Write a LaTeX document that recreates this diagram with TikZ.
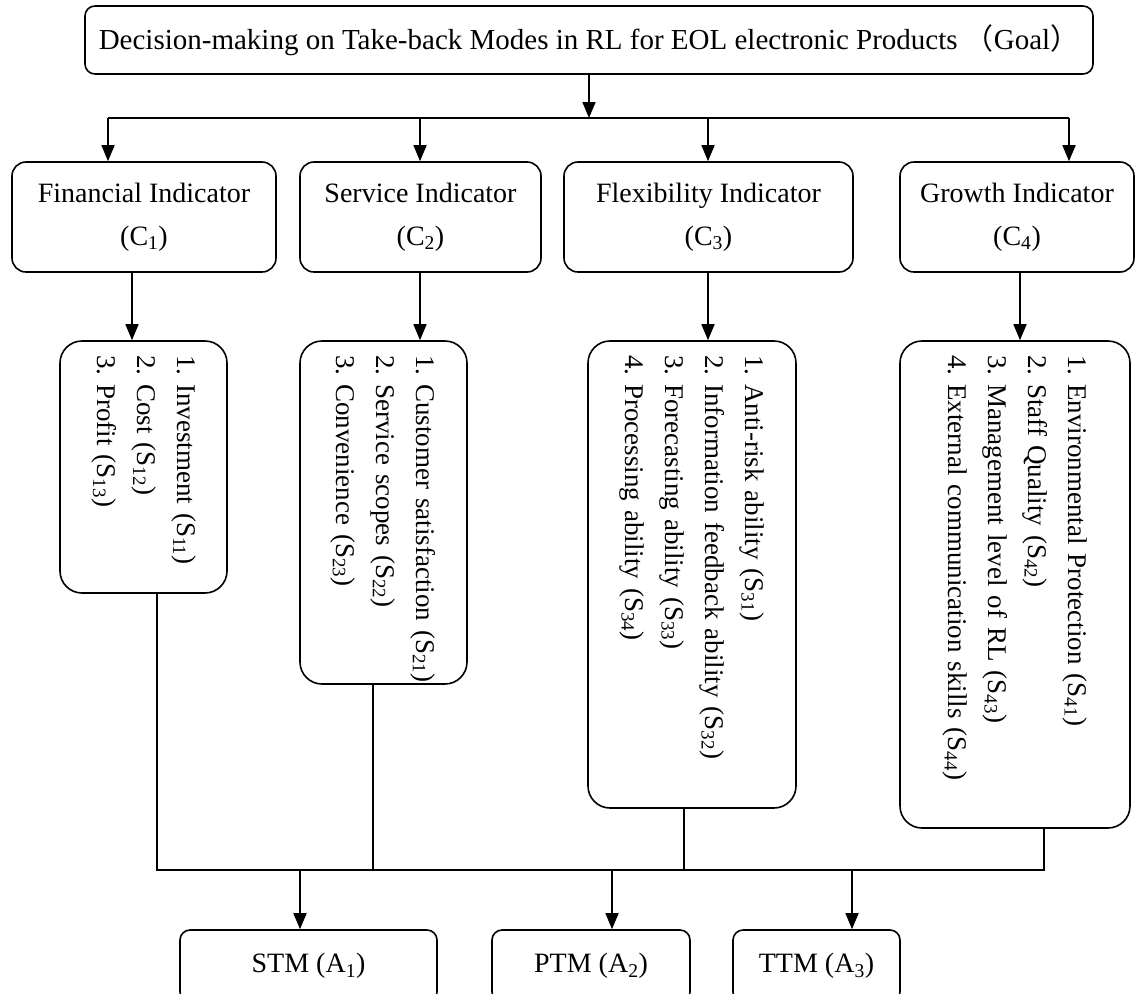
\documentclass[tikz,border=0pt]{standalone}
\usepackage{fontspec}
\setmainfont{Liberation Serif}
\newfontfamily\cjk{Noto Sans CJK SC}
\usetikzlibrary{arrows.meta}
\begin{document}
\frenchspacing
\begin{tikzpicture}[x=1pt,y=1pt,
  box/.style={draw, line width=1.6pt, rounded corners=14pt, align=center,
    inner sep=0pt, font=\fontsize{28}{43}\selectfont},
  sbox/.style={draw, line width=1.6pt, rounded corners=22pt, rotate=-90,
    align=left, inner xsep=14pt, inner ysep=0pt, font=\fontsize{27}{40}\selectfont},
  abox/.style={draw, line width=1.6pt, rounded corners=10pt, inner sep=0pt,
    font=\fontsize{28}{34}\selectfont, minimum height=72},
  arr/.style={line width=1.6pt, -{Triangle[length=16pt,width=13pt]}},
  wire/.style={line width=1.6pt}]
\clip (0,0) rectangle (1137,-993);

% goal
\node[box, rounded corners=10pt, minimum width=1008, minimum height=68,
  font=\fontsize{29}{34}\selectfont] (goal) at (589,-40)
  {Decision-making on Take-back Modes in RL for EOL electronic Products\ {\cjk （}Goal{\cjk ）}};

% criteria
\node[box, minimum width=264, minimum height=110] (C1) at (144,-217)
  {Financial Indicator\\(C\textsubscript{1})};
\node[box, minimum width=241, minimum height=110] (C2) at (420.5,-217)
  {Service Indicator\\(C\textsubscript{2})};
\node[box, minimum width=289, minimum height=110] (C3) at (708.5,-217)
  {Flexibility Indicator\\(C\textsubscript{3})};
\node[box, minimum width=234, minimum height=110] (C4) at (1017,-217)
  {Growth Indicator\\(C\textsubscript{4})};

% sub-criteria, written top to bottom
\node[sbox, minimum height=167, text width=224] (S1) at (143.5,-467)
  {\mbox{1. Investment (S\textsubscript{11})}\\\mbox{2. Cost (S\textsubscript{12})}\\\mbox{3. Profit (S\textsubscript{13})}};
\node[sbox, minimum height=167, text width=315] (S2) at (383.5,-512.5)
  {\mbox{1. Customer satisfaction (S\textsubscript{21})}\\\mbox{2. Service scopes (S\textsubscript{22})}\\\mbox{3. Convenience (S\textsubscript{23})}};
\node[sbox, minimum height=208, text width=439] (S3) at (692,-574.5)
  {\mbox{1. Anti-risk ability (S\textsubscript{31})}\\\mbox{2. Information feedback ability (S\textsubscript{32})}\\\mbox{3. Forecasting ability (S\textsubscript{33})}\\\mbox{4. Processing ability (S\textsubscript{34})}};
\node[sbox, minimum height=230, text width=459] (S4) at (1015,-584.5)
  {\mbox{1. Environmental Protection (S\textsubscript{41})}\\\mbox{2. Staff Quality (S\textsubscript{42})}\\\mbox{3. Management level of RL (S\textsubscript{43})}\\\mbox{4. External communication skills (S\textsubscript{44})}};

% alternatives (their lower edge runs past the page)
\node[abox, minimum width=257] (A1) at (308.5,-966) {STM (A\textsubscript{1})};
\node[abox, minimum width=198] (A2) at (591,-966) {PTM (A\textsubscript{2})};
\node[abox, minimum width=167] (A3) at (816.5,-966) {TTM (A\textsubscript{3})};

% goal to criteria
\coordinate (tl) at (108,-118);
\coordinate (tr) at (1069,-118);
\draw[arr] (goal.south) -- (goal.south |- tl);
\draw[wire] (tl) -- (tr);
\draw[arr] (tl) -- (108,0 |- C1.north);
\draw[arr] (420,0 |- tl) -- (420,0 |- C2.north);
\draw[arr] (708,0 |- tl) -- (708,0 |- C3.north);
\draw[arr] (tr) -- (1069,0 |- C4.north);

% criteria to sub-criteria
\draw[arr] (132,0 |- C1.south) -- (132,0 |- S1.west);
\draw[arr] (420,0 |- C2.south) -- (420,0 |- S2.west);
\draw[arr] (708,0 |- C3.south) -- (708,0 |- S3.west);
\draw[arr] (1020,0 |- C4.south) -- (1020,0 |- S4.west);

% sub-criteria to alternatives
\coordinate (bl) at (157,-870);
\coordinate (br) at (1044,-870);
\draw[wire] (157,0 |- S1.east) -- (bl) -- (br) -- (1044,0 |- S4.east);
\draw[wire] (373,0 |- S2.east) -- (373,0 |- bl);
\draw[wire] (684,0 |- S3.east) -- (684,0 |- bl);
\draw[arr] (300,0 |- bl) -- (300,0 |- A1.north);
\draw[arr] (612,0 |- bl) -- (612,0 |- A2.north);
\draw[arr] (852,0 |- bl) -- (852,0 |- A3.north);
\end{tikzpicture}
\end{document}
